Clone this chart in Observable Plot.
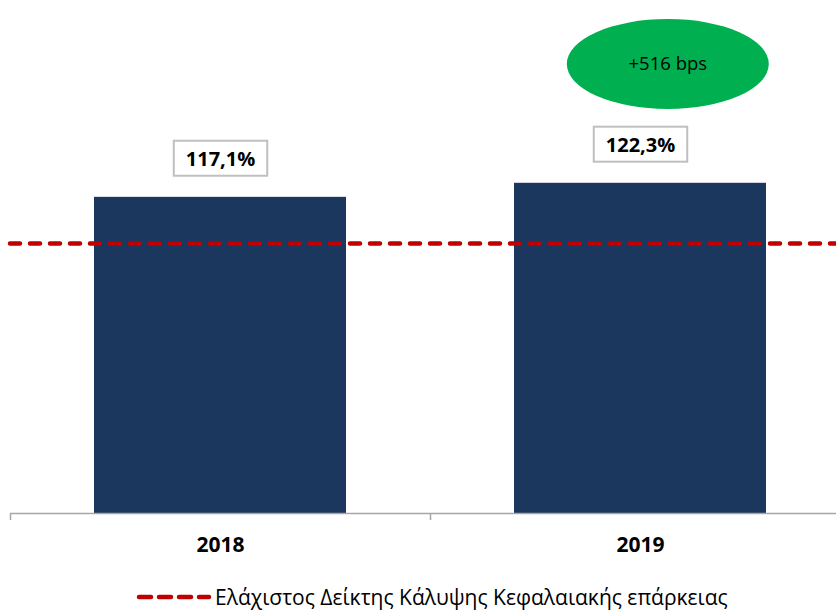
<!DOCTYPE html>
<html>
<head>
<meta charset="utf-8">
<script src="https://cdn.jsdelivr.net/npm/d3@7"></script>
<script src="https://cdn.jsdelivr.net/npm/@observablehq/plot@0.6"></script>
<style>
  body { margin: 0; background: #fff; font-family: "Open Sans", sans-serif; }
  #legend { display: flex; align-items: center; justify-content: flex-start; padding-left: 133px; margin-top: 13px; font-size: 21px; color: #000; white-space: nowrap; }
  #legend svg { margin-right: 2px; }
</style>
</head>
<body>
<div id="chart"></div>
<div id="legend"></div>
<script>
// Data
const years = ["2018", "2019"];
const ratios = [117.1, 122.3];
const labels = ["117,1%", "122,3%"];
const minimumRatio = 100;
const legendLabel = "Ελάχιστος Δείκτης Κάλυψης Κεφαλαιακής επάρκειας";
const noteText = "+516 bps";
const noteYear = "2019";
const noteValue = 166.5;

const rows = years.map((y, i) => ({year: y, i, value: ratios[i], label: labels[i]}));
const pad = 0.2;
const noteRow = [{x: years.indexOf(noteYear) + 0.5 + 0.065, y: noteValue, text: noteText}];

const font = "Open Sans, sans-serif";
const plot = Plot.plot({
  width: 836,
  height: 570,
  marginTop: 0,
  marginLeft: 10,
  marginRight: 0,
  marginBottom: 57,
  x: {type: "linear", domain: [0, years.length], range: [10, 850], axis: null},
  y: {domain: [0, 190], axis: null},
  style: {fontFamily: font, background: "#fff"},
  marks: [
    Plot.rectY(rows, {x1: d => d.i + pad, x2: d => d.i + 1 - pad, y1: 0, y2: "value", fill: "#1b375e"}),
    Plot.ruleY([0], {stroke: "#a6a6a6", strokeWidth: 1.5}),
    Plot.ruleX(d3.range(years.length + 1), {y1: 0, y2: 0, insetBottom: -7, stroke: "#a6a6a6", strokeWidth: 1.5}),
    Plot.ruleY([minimumRatio], {stroke: "#c00000", strokeWidth: 4.5, strokeDasharray: "10,10", strokeLinecap: "round"}),
    Plot.text(rows, {x: d => d.i + 0.5, y: 0, dy: 32, text: "year", fontWeight: "bold", fontSize: 21, fill: "#000"}),
    Plot.text(rows, {x: d => d.i + 0.5, y: "value", dy: -38, text: "label", fontWeight: "bold", fontSize: 20, fill: "#000", className: "vlabel"}),
    Plot.dot(noteRow, {x: "x", y: "y", r: 44, fill: "#00b050", stroke: "none", className: "note"}),
    Plot.text(noteRow, {x: "x", y: "y", text: "text", fontSize: 18.5, fill: "#000"})
  ]
});
document.getElementById("chart").appendChild(plot);

// Turn the note circle into an ellipse
d3.select(plot).selectAll(".note circle").each(function() {
  const c = d3.select(this);
  const e = document.createElementNS("http://www.w3.org/2000/svg", "ellipse");
  e.setAttribute("cx", c.attr("cx")); e.setAttribute("cy", c.attr("cy"));
  if (c.attr("transform")) e.setAttribute("transform", c.attr("transform"));
  e.setAttribute("rx", 101); e.setAttribute("ry", 45);
  e.setAttribute("fill", "#00b050");
  this.parentNode.replaceChild(e, this);
});
// Boxes behind value labels
d3.select(plot).selectAll(".vlabel text").each(function() {
  const bb = this.getBBox();
  const r = document.createElementNS("http://www.w3.org/2000/svg", "rect");
  r.setAttribute("x", bb.x - 12); r.setAttribute("y", bb.y - 4);
  r.setAttribute("width", bb.width + 24); r.setAttribute("height", bb.height + 8);
  const t = this.getAttribute("transform");
  if (t) r.setAttribute("transform", t);
  r.setAttribute("fill", "#fff"); r.setAttribute("stroke", "#bfbfbf"); r.setAttribute("stroke-width", 2);
  this.parentNode.insertBefore(r, this);
});

// Legend
const lg = d3.select("#legend");
const ls = lg.append("svg").attr("width", 80).attr("height", 20);
ls.append("line").attr("x1", 6).attr("x2", 76).attr("y1", 10).attr("y2", 10)
  .attr("stroke", "#c00000").attr("stroke-width", 4.5).attr("stroke-dasharray", "12,8").attr("stroke-linecap", "round");
lg.append("span").text(legendLabel);
</script>
</body>
</html>
